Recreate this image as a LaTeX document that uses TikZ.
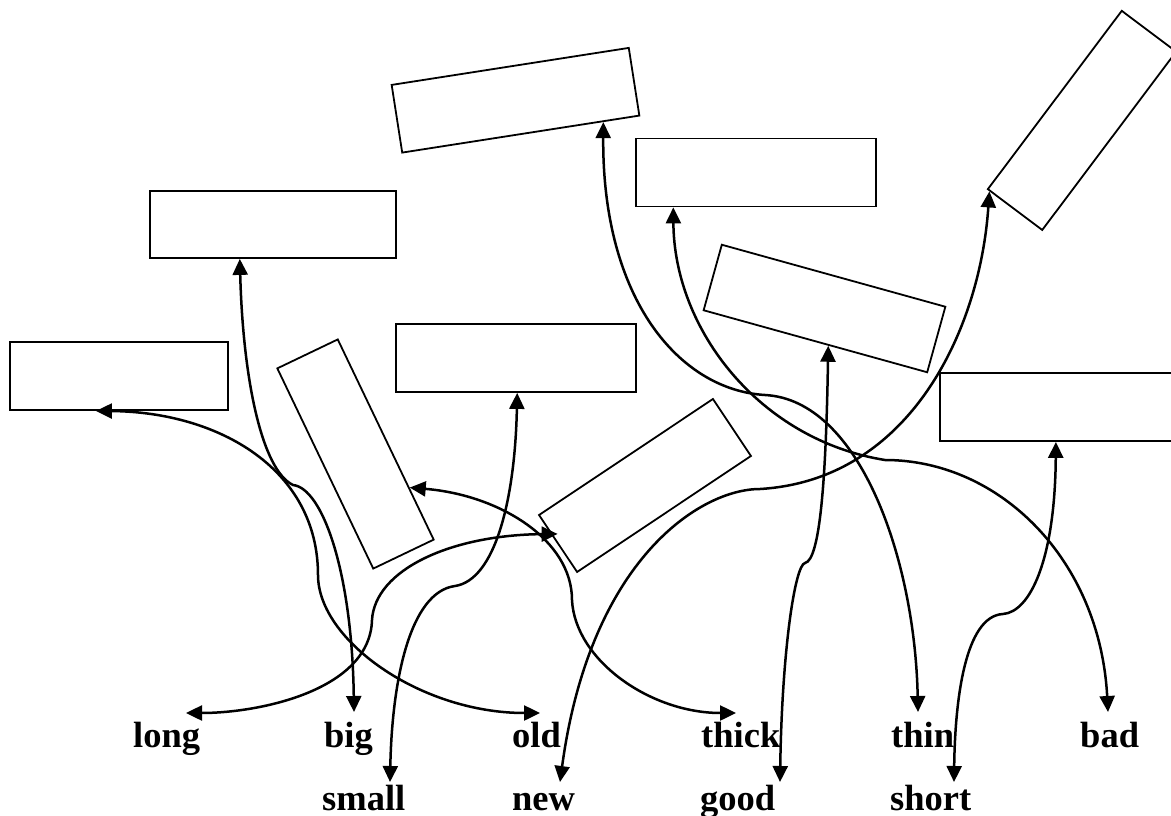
\documentclass[tikz,border=0pt]{standalone}
\usepackage{fontspec}
\setmainfont{Liberation Serif}
\usetikzlibrary{arrows.meta,calc}
\begin{document}
\begin{tikzpicture}[x=1pt,y=-1pt,
  box/.style={draw, line width=1.8pt, inner sep=0pt, minimum width=240pt, minimum height=68pt},
  word/.style={anchor=base west, inner sep=0pt, font=\bfseries\fontsize{36.5}{40}\selectfont},
  conn/.style={line width=2.5pt, arrows={Triangle[length=16pt,width=15pt]-Triangle[length=16pt,width=15pt]}}]
\useasboundingbox (0,0) rectangle (1171,816);
\clip (0,0) rectangle (1171,816);
% boxes
\node[box, minimum width=218pt] (A) at (119,376) {};
\node[box, minimum width=246pt, minimum height=67pt] (B) at (273,224.5) {};
\node[box, minimum width=222pt, minimum height=67pt, rotate=-64.4] (C) at (355.5,454) {};
\node[box] (D) at (516,358) {};
\node[box, minimum width=209pt, minimum height=68.5pt, rotate=33.7] (E) at (645,485.5) {};
\node[box, minimum height=68.5pt, rotate=8.87] (F) at (515.5,100.25) {};
\node[box] (G) at (756,172.5) {};
\node[box, minimum width=223pt, rotate=53.1] (H) at (1082,120.4) {};
\node[box, minimum width=232pt, rotate=-15.5] (I) at (824.5,308.5) {};
\node[box] (J) at (1060,407) {};
% words
\node[word] (long) at (133,747) {long};
\node[word] (big) at (324,747) {big};
\node[word] (old) at (512,747) {old};
\node[word] (thick) at (701,747) {thick};
\node[word] (thin) at (891,747) {thin};
\node[word] (bad) at (1080,747) {bad};
\node[word] (small) at (322,810) {small};
\node[word] (new) at (512,810) {new};
\node[word] (good) at (700,810) {good};
\node[word] (short) at (890,810) {short};
% connector ends on boxes
\coordinate (tA) at ($(A.south west)!0.395!(A.south east)$);
\coordinate (tB) at ($(B.south west)!0.366!(B.south east)$);
\coordinate (tC) at ($(C.north west)!0.74!(C.north east)$);
\coordinate (tD) at ($(D.south west)!0.505!(D.south east)$);
\coordinate (tE) at ($(E.north west)!0.38!(E.south west)+(5,-3)$);
\coordinate (tF) at ($(F.south west)!0.845!(F.south east)$);
\coordinate (tG) at ($(G.south west)!0.158!(G.south east)$);
\coordinate (tH) at ($(H.north west)!0.05!(H.south west)$);
\coordinate (tI) at ($(I.south west)!0.558!(I.south east)$);
\coordinate (tJ) at ($(J.south west)!0.483!(J.south east)$);
% connector ends at words
\coordinate (wlong) at ($(long.base west)+(53,-34)$);
\coordinate (wbig) at ($(big.base west)+(30,-35)$);
\coordinate (wold) at ($(old.base west)+(28,-34)$);
\coordinate (wthick) at ($(thick.base west)+(35,-34)$);
\coordinate (wthin) at ($(thin.base west)+(27,-35)$);
\coordinate (wbad) at ($(bad.base west)+(28,-35)$);
\coordinate (wsmall) at ($(small.base west)+(68,-28)$);
\coordinate (wnew) at ($(new.base west)+(48,-28)$);
\coordinate (wgood) at ($(good.base west)+(80,-28)$);
\coordinate (wshort) at ($(short.base west)+(64,-28)$);
% connectors
\draw[conn] (tA) .. controls (220,412) and (318,470) .. (318,575) .. controls (318,640) and (420,713) .. (wold);
\draw[conn] (tB) .. controls (243,380) and (262,470) .. (293,485) .. controls (322,488) and (352,570) .. (wbig);
\draw[conn] (tC) .. controls (500,495) and (572,540) .. (572,600) .. controls (575,660) and (650,713) .. (wthick);
\draw[conn] (tD) .. controls (515,500) and (495,580) .. (455,586) .. controls (410,592) and (392,680) .. (wsmall);
\draw[conn] (tE) .. controls (450,535) and (375,570) .. (372,620) .. controls (370,690) and (260,713) .. (wlong);
\draw[conn] (tF) .. controls (602,300) and (680,390) .. (765,395) .. controls (860,400) and (915,560) .. (wthin);
\draw[conn] (tG) .. controls (674,330) and (760,440) .. (885,460) .. controls (1000,460) and (1100,560) .. (wbad);
\draw[conn] (tH) .. controls (980,330) and (910,480) .. (760,489) .. controls (700,489) and (590,560) .. (wnew);
\draw[conn] (tI) .. controls (826,480) and (820,560) .. (805,563) .. controls (795,565) and (782,650) .. (wgood);
\draw[conn] (tJ) .. controls (1055,560) and (1030,612) .. (1003,614) .. controls (965,616) and (955,700) .. (wshort);
\end{tikzpicture}
\end{document}
